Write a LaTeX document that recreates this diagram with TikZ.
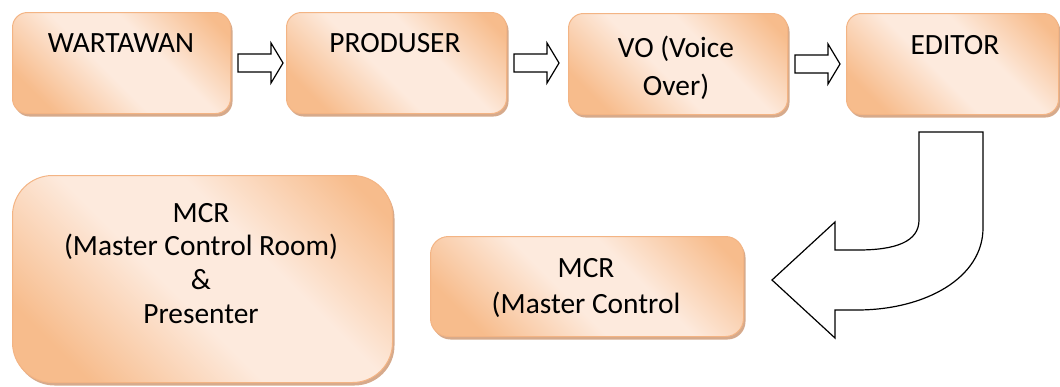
\documentclass[tikz,border=0pt]{standalone}
\usepackage{fontspec}
\setmainfont{Carlito}
\usetikzlibrary{calc}
\definecolor{pO}{RGB}{247,188,140}
\definecolor{pL}{RGB}{253,234,221}
\definecolor{pEdge}{RGB}{243,180,132}
\definecolor{pShadow}{RGB}{214,170,140}
\pgfdeclarehorizontalshading{peach}{100bp}{color(0bp)=(pO); color(24bp)=(pO); color(45bp)=(pL); color(60bp)=(pL); color(80bp)=(pO); color(100bp)=(pO)}
\newcommand{\blockarrow}[2]{%
  \draw[blk] ($(#1.east)+(7,-9)$) -- ++(33,0) -- ++(0,-11) -- ++(12,20) -- ++(-12,20) -- ++(0,-11) -- ++(-33,0) -- cycle;}
\begin{document}
\begin{tikzpicture}[x=1bp,y=-1bp,
  box/.style={draw=pEdge, line width=1bp, shading=peach, shading angle=45, anchor=north west, inner sep=0pt,
    preaction={fill=pShadow, transform canvas={xshift=2bp,yshift=-3bp}}},
  lbl/.style={font=\fontsize{29.5}{34}\selectfont, align=center, anchor=base, inner sep=0pt, text=black},
  blk/.style={draw=black, line width=1.2bp, fill=white, line join=miter}]
\useasboundingbox (0,0) rectangle (1060,386);
% top row
\node[box, rounded corners=15bp, minimum width=218bp, minimum height=101bp] (w) at (12,12) {};
\node[box, rounded corners=15bp, minimum width=220bp, minimum height=101bp] (p) at (286,12) {};
\node[box, rounded corners=15bp, minimum width=219bp, minimum height=101bp] (v) at (568,13) {};
\node[box, rounded corners=15bp, minimum width=212bp, minimum height=101bp] (e) at (846,13) {};
% bottom row
\node[box, rounded corners=40bp, minimum width=380bp, minimum height=207bp] (big) at (12,175) {};
\node[box, rounded corners=18bp, minimum width=313bp, minimum height=100bp] (m) at (430,236) {};
% labels (base = baseline of last line)
\node[lbl] (tw) at (121,52) {WARTAWAN};
\node[lbl] (tp) at (395,52) {PRODUSER};
\node[lbl, font=\fontsize{29.5}{38}\selectfont] (tv) at (676,95) {VO (Voice\\Over)};
\node[lbl] (te) at (955,54) {EDITOR};
\node[lbl, font=\fontsize{29.5}{33.7}\selectfont] (tb) at (201,323) {MCR\\(Master Control Room)\\\&\\Presenter};
\node[lbl, font=\fontsize{29.5}{36}\selectfont] (tm) at (586,313) {MCR\\(Master Control};
% block arrows
\blockarrow{w}{p}
\blockarrow{p}{v}
\blockarrow{v}{e}
% curved arrow
\draw[blk] (919,132) -- (983,132) -- (983,228)
  .. controls (983,278) and (925,310) .. (857,310)
  -- (835,310) -- (835,338) -- (772,280) -- (835,222) -- (835,250) -- (858,250)
  .. controls (895,250) and (919,242) .. (919,220) -- cycle;
\end{tikzpicture}
\end{document}
